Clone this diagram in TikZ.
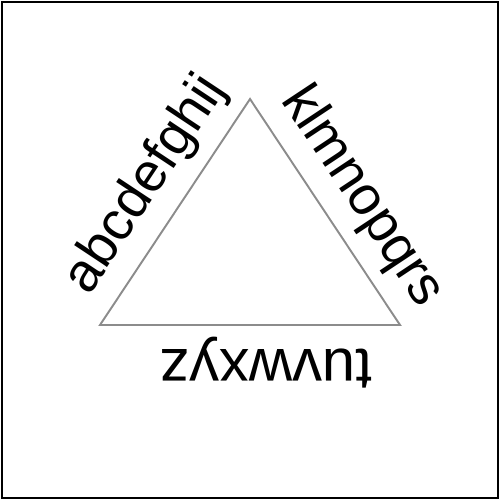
\documentclass[tikz,border=0pt]{standalone}
\usepackage{fontspec}
\setmainfont{Liberation Sans}
\usepackage{tikz}
\usetikzlibrary{decorations.text}

\newcommand{\sidefont}{\fontsize{31}{31}\selectfont}
\newcommand{\basefont}{\fontsize{34}{34}\selectfont}

\begin{document}
\begin{tikzpicture}[
    frame/.style={draw=black, line width=1.2pt},
    tri/.style={draw=black!45, line width=1.1pt},
    sidetext/.style 2 args={
        decorate,
        decoration={text along path, raise=0.5cm,
            text align={left indent=#1},
            text={#2}}},
]

% === Frame ===
\useasboundingbox (0,0) rectangle (10,10);
\draw[frame] (0.04,0.04) rectangle (9.96,9.96);

% === Triangle ===
\coordinate (left) at (2.0,3.5);
\coordinate (apex) at (5.0,8.02);
\coordinate (right) at (8.0,3.5);
\draw[tri] (left) -- (apex) -- (right) -- cycle;

% === Text along the sides ===
\path[sidetext={0.36cm}{|\sidefont|abcdefghij}] (left) -- (apex);
\path[sidetext={0.36cm}{|\sidefont|klmnopqrs}] (apex) -- (right);
\path[sidetext={0.55cm}{|\basefont|tuvwxyz}] (right) -- (left);

\end{tikzpicture}
\end{document}
